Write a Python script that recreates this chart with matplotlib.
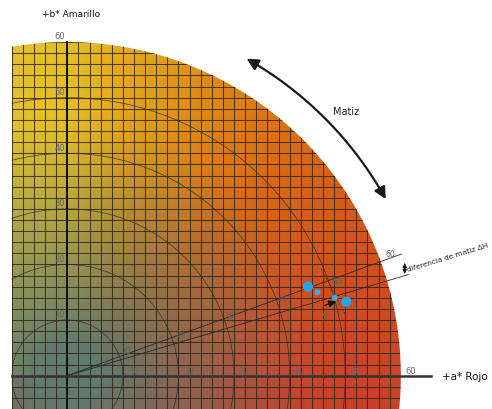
import numpy as np
import matplotlib
matplotlib.use('Agg')
import matplotlib.pyplot as plt
from matplotlib.patches import Circle, PathPatch, FancyArrowPatch
from matplotlib.path import Path

# chroma circles and axis labels
circle_radii = [10, 20, 30, 40, 50]
outer_radius = 60
axis_ticks = [10, 20, 30, 40, 50, 60]

# two hue lines (degrees) and the sample points on them
hue_angles = [20.0, 16.5]
big_points_a = [43.3, 50.2]
big_points_b = [16.0, 13.3]
small_points_a = [45.0, 48.1]
small_points_b = [15.0, 14.0]

# chroma labels along the hue lines
line_labels = ['10', '20', '30', '40', '50', '50', '60']
line_labels_a = [10.6, 20.3, 29.2, 38.8, 48.5, 46.5, 58.2]
line_labels_b = [4.5, 7.5, 10.8, 13.8, 17.0, 10.6, 21.9]

# colours of the a*b* plane: neutral grey and full colour per hue angle
gray_col = np.array([98, 122, 110]) / 255
hue_deg = [-15, 0, 20, 45, 65, 90, 110]
hue_rgb = np.array([[196, 62, 42], [202, 68, 42], [208, 80, 32], [216, 106, 20],
                    [222, 140, 22], [228, 190, 36], [224, 195, 52]]) / 255

fig = plt.figure(figsize=(4.92, 4.10), dpi=100)
ax = fig.add_axes([0, 0, 1, 1])
ax.set_xlim(-12.1, 76.4)
ax.set_ylim(-6.0, 67.75)
ax.axis('off')

# clip region: circle r=60 cut at a=-10 and below
th0 = np.arcsin(-8 / outer_radius)
th1 = np.arccos(-10 / outer_radius)
th = np.linspace(th0, th1, 300)
verts = [(-10, -8)] + list(zip(outer_radius * np.cos(th), outer_radius * np.sin(th))) + [(-10, -8)]
region = PathPatch(Path(verts, closed=True), facecolor='none', edgecolor='none')
ax.add_patch(region)

# colour field
A, B = np.meshgrid(np.linspace(-10, 60, 500), np.linspace(-8, 60, 500))
C = np.hypot(A, B)
H = np.degrees(np.arctan2(B, A))
full = np.stack([np.interp(H, hue_deg, hue_rgb[:, k]) for k in range(3)], axis=-1)
w = np.clip((C - 6) / 40, 0, 1) ** 0.9
img = gray_col * (1 - w[..., None]) + full * w[..., None]
im = ax.imshow(img, extent=[-10, 60, -8, 60], origin='lower', interpolation='bilinear', zorder=1)
im.set_clip_path(region)

# grid every 2 units
gx = np.arange(-10, 61, 2)
gy = np.arange(-8, 61, 2)
vl = ax.vlines(gx, -8, 60, colors='#2e2212', linewidth=0.75, alpha=0.8, zorder=2)
hl = ax.hlines(gy, -10, 60, colors='#2e2212', linewidth=0.75, alpha=0.8, zorder=2)
vl.set_clip_path(region)
hl.set_clip_path(region)

# chroma circles
for r in circle_radii:
    c = Circle((0, 0), r, fill=False, edgecolor='#2a2a2a', linewidth=0.6, alpha=0.75, zorder=3)
    ax.add_patch(c)
    c.set_clip_path(region)

# axes
ax.plot([0, 0], [-8, 60], color='#111111', linewidth=1.4, zorder=4)
ax.plot([-10, 65.5], [0, 0], color='#333333', linewidth=1.8, zorder=4)

for t in axis_ticks:
    ax.text(-0.4, t + 1.1, str(t), fontsize=6, color='#666666', ha='right', va='center', zorder=5)
    ax.text(t + 1.8, 0.9, str(t), fontsize=6, color='#666666', ha='center', va='center', zorder=5)

# hue lines
for ang in hue_angles:
    rad = np.deg2rad(ang)
    ax.plot([0, 64 * np.cos(rad)], [0, 64 * np.sin(rad)], color='#2a2a2a', linewidth=0.6, zorder=5)

for lab, la, lb in zip(line_labels, line_labels_a, line_labels_b):
    ax.text(la, lb, lab, fontsize=5.5, color='#606060', ha='center', va='center', zorder=5)

# dashed cross line through the samples
ax.plot([45.7, 50.1], [19.2, 10.8], color='#333333', linewidth=0.5, linestyle=(0, (3, 2)), zorder=5)
ax.plot([45.0, 45.9], [15.0, 12.5], color='#e03030', linewidth=0.6, linestyle=':', zorder=5)
ax.plot([48.1, 47.6], [14.0, 17.0], color='#e03030', linewidth=0.6, linestyle=':', zorder=5)

# sample points
ax.scatter(big_points_a, big_points_b, s=55, color='#2ba3e3', edgecolors='none', zorder=6)
ax.scatter(small_points_a, small_points_b, s=18, color='#3ab0e0', edgecolors='none', zorder=6)
ax.annotate('', xy=(48.8, 13.5), xytext=(45.9, 12.5),
            arrowprops=dict(arrowstyle='-|>,head_length=0.4,head_width=0.2', color='#111111', lw=1.0),
            zorder=7)

# delta H bracket
ax.annotate('', xy=(60.7, 20.8), xytext=(60.7, 17.8),
            arrowprops=dict(arrowstyle='<|-|>,head_length=0.25,head_width=0.12', color='#111111', lw=0.8),
            zorder=7)
ax.text(61.4, 18.6, 'diferencia de matiz ΔH', fontsize=5.3, rotation=17, rotation_mode='anchor',
        ha='left', va='bottom', color='#222222', zorder=7)

# Matiz arc arrow
arc_t = np.deg2rad(np.linspace(60.5, 29.0, 60))
arc_path = Path(list(zip(65.5 * np.cos(arc_t), 65.5 * np.sin(arc_t))))
ax.add_patch(FancyArrowPatch(path=arc_path, arrowstyle='<|-|>,head_length=7,head_width=3.5',
                             color='#1a1a1a', linewidth=1.6, zorder=7))
ax.text(50.1, 47.6, 'Matiz', fontsize=7, color='#222222', ha='center', va='center', zorder=7)

# axis titles
ax.text(-4.6, 65.2, '+b* Amarillo', fontsize=6.5, color='#111111', ha='left', va='center')
ax.text(67.4, 0.0, '+a* Rojo', fontsize=7.5, color='#111111', ha='left', va='center')

fig.savefig('out.png', dpi=100)
